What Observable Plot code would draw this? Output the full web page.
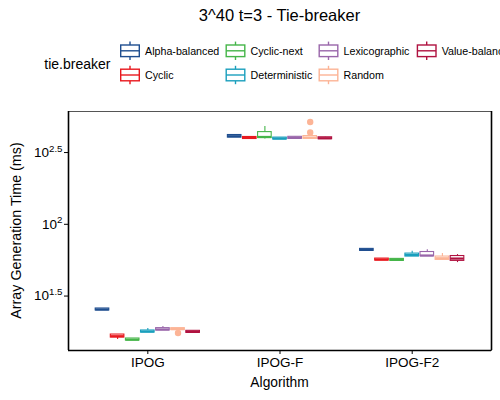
<!DOCTYPE html>
<html><head><meta charset="utf-8">
<script src="https://cdn.jsdelivr.net/npm/d3@7"></script>
<script src="https://cdn.jsdelivr.net/npm/@observablehq/plot@0.6"></script>
<style>
body{margin:0;background:#fff;font-family:"Liberation Sans",Arial,sans-serif;}
#wrap{position:relative;width:500px;height:400px;overflow:hidden;background:#fff;}
#plot{position:absolute;left:0;top:96px;}
#anno{position:absolute;left:0;top:0;pointer-events:none;}
</style></head><body><div id="wrap"><div id="plot"></div></div>
<script>
const algorithms = ["IPOG", "IPOG-F", "IPOG-F2"];
const tieBreakers = ["Alpha-balanced", "Cyclic", "Cyclic-next", "Deterministic", "Lexicographic", "Random", "Value-balanced"];
const colors = ["#1f4e8f", "#e8191f", "#45b549", "#1a9fbd", "#9966aa", "#fcb496", "#b01240"];
// rows: algorithm, columns: tie-breaker (ms)
const medians = [
  [25.5, 16.6, 15.7, 17.9, 18.5, 18.6, 17.8],
  [411, 400, 406, 396, 400, 402, 398],
  [66.4, 56.8, 56.5, 61.1, 60.6, 58.0, 57.7]
];
const q1s = [
  [25.1, 16.25, 15.5, 17.6, 18.2, 18.33, 17.52],
  [402, 393, 399, 390, 394, 394, 392],
  [65.3, 55.9, 55.6, 59.6, 59.9, 56.5, 55.6]
];
const q3s = [
  [25.9, 17.05, 16.0, 18.2, 18.9, 18.9, 18.1],
  [419, 406, 439, 402, 407, 412, 404],
  [67.4, 57.7, 57.4, 62.5, 64.1, 59.6, 60.1]
];
const whiskerLo = [
  [25.1, 15.74, 15.5, 17.6, 18.2, 17.9, 17.52],
  [402, 393, 393, 390, 394, 394, 392],
  [65.3, 55.9, 55.6, 59.6, 59.9, 56.5, 54.1]
];
const whiskerHi = [
  [25.9, 17.05, 16.0, 18.8, 19.4, 18.9, 18.1],
  [419, 406, 480, 402, 407, 419, 404],
  [67.4, 57.7, 57.4, 64.9, 66.4, 62.5, 61.5]
];
const outlierAlg = ["IPOG", "IPOG-F", "IPOG-F"];
const outlierTie = ["Random", "Random", "Random"];
const outlierVal = [17.5, 436, 516];
const yTickExps = [1.5, 2, 2.5];

const FONT = "Liberation Sans, Arial, sans-serif";
const n = tieBreakers.length, dodge = 0.8, step = dodge / n, half = step * 0.45;
const xpos = (i, j) => i + 1 + (j - (n - 1) / 2) * step;
const boxes = algorithms.flatMap((a, i) => tieBreakers.map((t, j) => ({
  alg: a, tb: t, x: xpos(i, j),
  med: medians[i][j], q1: q1s[i][j], q3: q3s[i][j], lo: whiskerLo[i][j], hi: whiskerHi[i][j]
})));
const outliers = outlierVal.map((v, k) => ({
  tb: outlierTie[k], v,
  x: xpos(algorithms.indexOf(outlierAlg[k]), tieBreakers.indexOf(outlierTie[k]))
}));
const xDomain = [0.4, algorithms.length + 0.6];
const yDomain = [13.2, 611];

const plot = Plot.plot({
  width: 500, height: 304,
  marginTop: 15, marginBottom: 50, marginLeft: 68, marginRight: 9,
  style: {fontFamily: FONT, fontSize: "13.5px", color: "#000", background: "transparent", overflow: "visible"},
  x: {domain: xDomain, ticks: algorithms.map((a, i) => i + 1), tickFormat: d => algorithms[d - 1], tickSize: 4, tickPadding: 3, label: null},
  y: {type: "log", domain: yDomain, ticks: yTickExps.map(e => 10 ** e), tickFormat: d => String(+Math.log10(d).toFixed(2)), tickSize: 4, tickPadding: 2, label: null},
  color: {domain: tieBreakers, range: colors},
  marks: [
    Plot.ruleX(boxes, {x: "x", y1: "lo", y2: "hi", stroke: "tb", strokeWidth: 1.1}),
    Plot.rect(boxes, {x1: d => d.x - half, x2: d => d.x + half, y1: "q1", y2: "q3", fill: "white", stroke: "tb", strokeWidth: 1.1}),
    Plot.ruleY(boxes, {y: "med", x1: d => d.x - half, x2: d => d.x + half, stroke: "tb", strokeWidth: 2.2}),
    Plot.dot(outliers, {x: "x", y: "v", r: 3.2, fill: "tb", stroke: null}),
    Plot.frame({stroke: "#555", strokeWidth: 1}),
    Plot.ruleX(xDomain, {stroke: "#000", strokeWidth: 1.6}),
    Plot.ruleY([yDomain[0]], {stroke: "#000", strokeWidth: 1.6})
  ]
});
document.getElementById("plot").appendChild(plot);

// superscript exponents on y tick labels
d3.select(plot).selectAll('g[aria-label="y-axis tick label"] text').each(function () {
  const e = this.textContent;
  const s = d3.select(this);
  s.text("10");
  s.append("tspan").attr("dy", "-0.55em").attr("font-size", "0.72em").text(e);
});

// annotations: title, axis titles, legend
const anno = d3.select("#wrap").append("svg").attr("id", "anno")
  .attr("width", 500).attr("height", 400).attr("font-family", FONT);
const panelCx = 68 + (500 - 68 - 9) / 2;
anno.append("text").attr("x", panelCx).attr("y", 21).attr("text-anchor", "middle")
  .attr("font-size", 16.5).text("3^40 t=3 - Tie-breaker");
anno.append("text").attr("x", panelCx).attr("y", 387).attr("text-anchor", "middle")
  .attr("font-size", 13.8).text("Algorithm");
anno.append("text").attr("transform", `translate(21,${(111 + 350) / 2}) rotate(-90)`)
  .attr("text-anchor", "middle").attr("font-size", 14.3).text("Array Generation Time (ms)");
anno.append("text").attr("x", 44.3).attr("y", 69).attr("font-size", 14).text("tie.breaker");

const colKeyX = [130, 235.5, 328.5, 426.7];
const rowKeyY = [50.8, 75];
const color = plot.scale("color");
tieBreakers.forEach((t, k) => {
  const cx = colKeyX[Math.floor(k / 2)], cy = rowKeyY[k % 2];
  const c = colors[color.domain.indexOf(t)];
  const g = anno.append("g").attr("stroke", c).attr("stroke-width", 1.4).attr("fill", "none");
  g.append("line").attr("x1", cx).attr("x2", cx).attr("y1", cy - 9.2).attr("y2", cy - 5.8);
  g.append("line").attr("x1", cx).attr("x2", cx).attr("y1", cy + 5.8).attr("y2", cy + 9.2);
  g.append("rect").attr("x", cx - 9.3).attr("y", cy - 5.8).attr("width", 18.6).attr("height", 11.6).attr("fill", "#fff");
  g.append("line").attr("x1", cx - 9.3).attr("x2", cx + 9.3).attr("y1", cy).attr("y2", cy);
  anno.append("text").attr("x", cx + 15).attr("y", cy + 3.9).attr("font-size", 10.7).text(t);
});
</script></body></html>
